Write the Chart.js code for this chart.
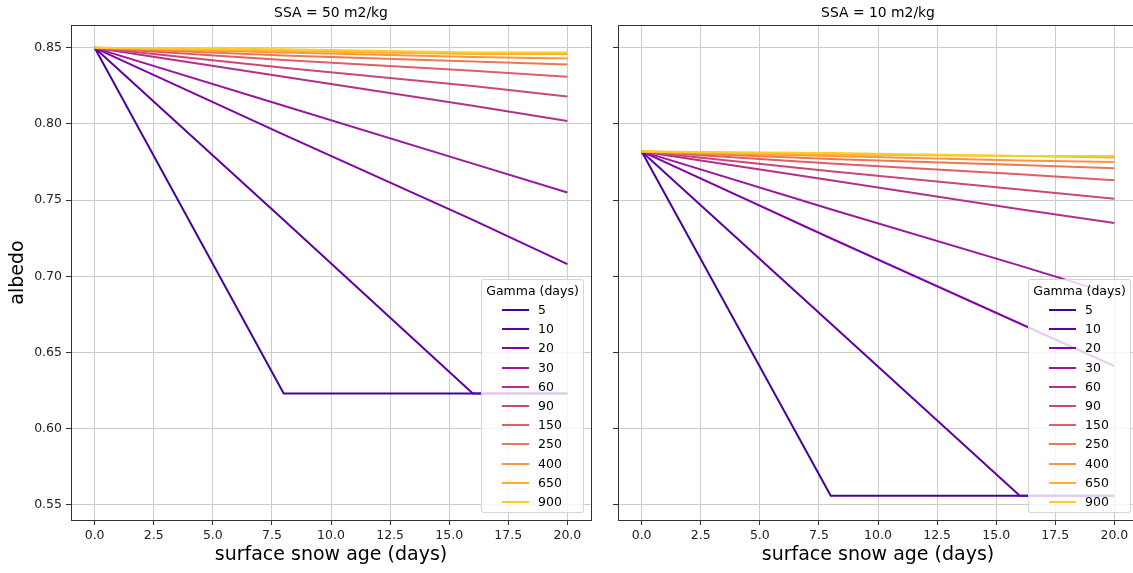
<!DOCTYPE html>
<html>
<head>
<meta charset="utf-8">
<script src="https://cdn.jsdelivr.net/npm/chart.js@4.4.1/dist/chart.umd.min.js"></script>
<style>
  html, body { margin: 0; padding: 0; background: #fff; overflow: hidden; width: 1133px; height: 573px; }
  canvas { position: absolute; top: 0; }
  #leftChart { left: 0; }
  #rightChart { left: 560px; }
  .legend {
    position: absolute; top: 279px; width: 103px; height: 234px;
    background: rgba(255, 255, 255, 0.8);
    border: 1px solid rgba(204, 204, 204, 0.8);
    border-radius: 3px; box-sizing: border-box;
    font-family: "DejaVu Sans", sans-serif; font-size: 12.5px; color: #000;
  }
  .legend .ttl { position: absolute; left: 0; width: 100%; top: 3px; text-align: center; }
  .legend .row { position: absolute; left: 0; height: 16px; }
  .legend .swatch { position: absolute; left: 20px; top: 7px; width: 27px; height: 2px; }
  .legend .lbl { position: absolute; left: 56px; top: 0; line-height: 16px; }
</style>
</head>
<body>
<canvas id="leftChart" width="600" height="573"></canvas>
<canvas id="rightChart" width="600" height="573"></canvas>
<div class="legend" id="leftLegend" style="left:481px"></div>
<div class="legend" id="rightLegend" style="left:1028px"></div>
<script>
// Data
const days = [0, 8, 16, 20];
const gammas = [5, 10, 20, 30, 60, 90, 150, 250, 400, 650, 900];
const lineColors = ['#41049d', '#5c01a6', '#7e03a8', '#9c179e', '#b6308b', '#cc4778',
                    '#de5f65', '#ec7853', '#f89540', '#fdb030', '#fcce25'];

// SSA = 50 m2/kg
const ssa50 = [
  [0.850, 0.623, 0.623, 0.623],
  [0.850, 0.737, 0.623, 0.623],
  [0.850, 0.793, 0.737, 0.708],
  [0.850, 0.812, 0.774, 0.755],
  [0.850, 0.831, 0.812, 0.802],
  [0.850, 0.837, 0.825, 0.818],
  [0.850, 0.842, 0.835, 0.831],
  [0.850, 0.845, 0.841, 0.839],
  [0.850, 0.847, 0.844, 0.843],
  [0.850, 0.848, 0.846, 0.846],
  [0.850, 0.849, 0.847, 0.847]
];

// SSA = 10 m2/kg
const ssa10 = [
  [0.782, 0.556, 0.556, 0.556],
  [0.782, 0.669, 0.556, 0.556],
  [0.782, 0.725, 0.669, 0.641],
  [0.782, 0.744, 0.707, 0.688],
  [0.782, 0.763, 0.744, 0.735],
  [0.782, 0.769, 0.757, 0.751],
  [0.782, 0.774, 0.767, 0.763],
  [0.782, 0.777, 0.773, 0.771],
  [0.782, 0.779, 0.776, 0.775],
  [0.782, 0.780, 0.779, 0.778],
  [0.782, 0.781, 0.779, 0.779]
];

const xTicks = [0, 2.5, 5, 7.5, 10, 12.5, 15, 17.5, 20];
const yTicks = [0.55, 0.60, 0.65, 0.70, 0.75, 0.80, 0.85];

const FONT = '"DejaVu Sans", sans-serif';

// Draws panel title above the plot area and the box round it
const panelDecor = {
  id: 'panelDecor',
  afterDraw(chart, args, opts) {
    const { ctx, chartArea } = chart;
    ctx.save();
    ctx.strokeStyle = '#333';
    ctx.lineWidth = 1;
    ctx.strokeRect(Math.round(chartArea.left) + 0.5, Math.round(chartArea.top) + 0.5,
      Math.round(chartArea.right - chartArea.left), Math.round(chartArea.bottom - chartArea.top));
    ctx.fillStyle = '#000';
    ctx.font = '13.9px ' + FONT;
    ctx.textAlign = 'center';
    ctx.textBaseline = 'middle';
    ctx.fillText(opts.text, (chartArea.left + chartArea.right) / 2, chartArea.top - 12);
    ctx.restore();
  }
};

function buildDatasets(series) {
  return series.map((vals, i) => ({
    label: String(gammas[i]),
    data: days.map((d, j) => ({ x: d, y: vals[j] })),
    borderColor: lineColors[i],
    borderWidth: 2,
    pointRadius: 0,
    tension: 0,
    fill: false,
    order: gammas.length - i
  }));
}

function makeChart(canvasId, series, title, yWidth, padRight, showYLabels) {
  const ctx = document.getElementById(canvasId).getContext('2d');
  return new Chart(ctx, {
    type: 'line',
    data: { datasets: buildDatasets(series) },
    options: {
      responsive: false,
      animation: false,
      devicePixelRatio: 1,
      layout: { padding: { top: 25, right: padRight, left: 0, bottom: 0 } },
      plugins: {
        legend: { display: false },
        tooltip: { enabled: false },
        title: { display: false },
        panelDecor: { text: title }
      },
      scales: {
        x: {
          type: 'linear',
          min: -1,
          max: 21,
          afterBuildTicks: axis => { axis.ticks = xTicks.map(v => ({ value: v })); },
          afterFit: axis => { axis.height = 53; },
          ticks: {
            callback: v => Number(v).toFixed(1),
            color: '#222',
            font: { family: FONT, size: 12.5 },
            padding: 3,
            maxRotation: 0,
            autoSkip: false
          },
          grid: { color: '#cccccc', lineWidth: 1, tickColor: '#333', tickLength: 5 },
          border: { display: false },
          title: {
            display: true,
            text: 'surface snow age (days)',
            color: '#000',
            font: { family: FONT, size: 19 },
            padding: { top: 0, bottom: 7 }
          }
        },
        y: {
          type: 'linear',
          min: 0.540,
          max: 0.865,
          afterBuildTicks: axis => { axis.ticks = yTicks.map(v => ({ value: v })); },
          afterFit: axis => { axis.width = yWidth; },
          ticks: {
            callback: v => showYLabels ? Number(v).toFixed(2) : '',
            color: '#222',
            font: { family: FONT, size: 12.5 },
            padding: 4,
            autoSkip: false
          },
          grid: { color: '#cccccc', lineWidth: 1, tickColor: '#333', tickLength: 5 },
          border: { display: false },
          title: {
            display: showYLabels,
            text: 'albedo',
            color: '#000',
            font: { family: FONT, size: 19 },
            padding: { top: 7, bottom: 0 }
          }
        }
      }
    },
    plugins: [panelDecor]
  });
}

makeChart('leftChart', ssa50, 'SSA = 50 m2/kg', 71, 9, true);
makeChart('rightChart', ssa10, 'SSA = 10 m2/kg', 58, 22, false);

// HTML legends
function buildLegend(id) {
  const box = document.getElementById(id);
  let html = '<div class="ttl">Gamma (days)</div>';
  gammas.forEach((g, i) => {
    const top = 22 + i * 19.2;
    html += `<div class="row" style="top:${top}px">
      <span class="swatch" style="background:${lineColors[i]}"></span>
      <span class="lbl">${g}</span></div>`;
  });
  box.innerHTML = html;
}
buildLegend('leftLegend');
buildLegend('rightLegend');
</script>
</body>
</html>
